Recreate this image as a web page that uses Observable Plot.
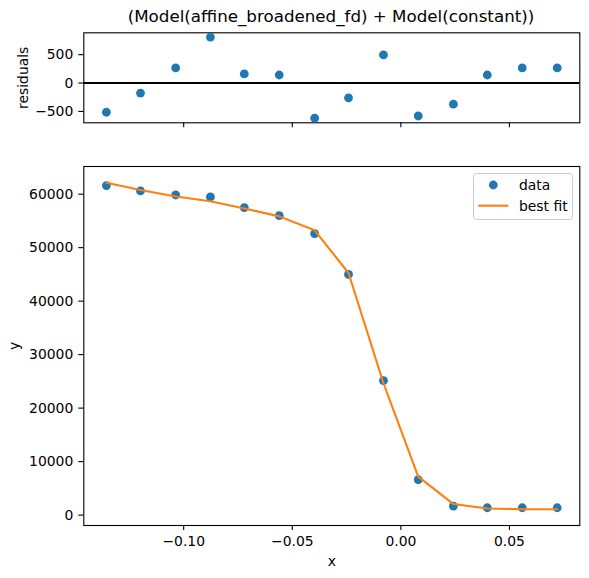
<!DOCTYPE html>
<html>
<head>
<meta charset="utf-8">
<script src="https://cdn.jsdelivr.net/npm/d3@7"></script>
<script src="https://cdn.jsdelivr.net/npm/@observablehq/plot@0.6"></script>
<style>
  html, body { margin: 0; padding: 0; background: white; }
  #wrap { position: relative; width: 589px; height: 578px; background: white; font-family: "DejaVu Sans", sans-serif; }
  #title { position: absolute; top: 8px; left: 83px; width: 496px; text-align: center; font-size: 16.7px; line-height: 1; color: black; white-space: nowrap; }
  #top, #main, #legend { position: absolute; left: 0; }
  #top { top: 0; }
  #main { top: 135px; }
  #legend { left: 473px; top: 173px; }
</style>
</head>
<body>
<div id="wrap">
  <div id="top"></div>
  <div id="main"></div>
  <div id="title">(Model(affine_broadened_fd) + Model(constant))</div>
  <div id="legend"></div>
</div>
<script>
// ---- data ----
const xValues = [-0.1356, -0.1199, -0.1037, -0.0877, -0.0721, -0.0560, -0.0397, -0.0241, -0.0080, 0.0080, 0.0242, 0.0398, 0.0559, 0.0720];
const yData   = [61610, 60600, 59850, 59480, 57490, 55990, 52620, 45000, 25150, 6610, 1685, 1370, 1370, 1370];
const yFit    = [62120, 60780, 59580, 58670, 57330, 55850, 53240, 45260, 24650, 7190, 2060, 1230, 1100, 1100];
const residuals = [-514, -177, 266, 809, 160, 142, -619, -261, 496, -580, -372, 142, 266, 266];

const xTicks = [-0.10, -0.05, 0.00, 0.05];
const yTicks = [0, 10000, 20000, 30000, 40000, 50000, 60000];
const rTicks = [-500, 0, 500];

const titleText = "(Model(affine_broadened_fd) + Model(constant))";
const legendLabels = ["data", "best fit"];

const blue = "#1f77b4", orange = "#ff7f0e";

const rows = xValues.map((x, i) => ({x, y: yData[i], fit: yFit[i], res: residuals[i]}));

const xDomain = [-0.146, 0.0824];
const style = {fontFamily: "DejaVu Sans, sans-serif", fontSize: "13.9px", color: "black", background: "transparent", overflow: "visible"};

document.getElementById("title").textContent = titleText;

// ---- residuals panel ----
const topPlot = Plot.plot({
  width: 589, height: 135,
  marginLeft: 83.3, marginRight: 9.7, marginTop: 32.3, marginBottom: 12.7,
  style,
  x: {domain: xDomain},
  y: {domain: [-700, 885]},
  marks: [
    Plot.frame({stroke: "black", strokeWidth: 1.1}),
    Plot.axisX({ticks: xTicks, tickSize: 5, tickFormat: () => "", label: null, strokeWidth: 1.1}),
    Plot.axisY({ticks: rTicks, tickSize: 5, tickPadding: 5.5, tickFormat: d3.format("d"), label: "residuals", labelAnchor: "center", labelOffset: 66, labelArrow: "none", strokeWidth: 1.1}),
    Plot.ruleY([0], {stroke: "black", strokeWidth: 2}),
    Plot.dot(rows, {x: "x", y: "res", r: 4.4, fill: blue})
  ]
});
document.getElementById("top").appendChild(topPlot);

// ---- main panel ----
const mainPlot = Plot.plot({
  width: 589, height: 443,
  marginLeft: 83.3, marginRight: 9.7, marginTop: 31, marginBottom: 53,
  style,
  x: {domain: xDomain},
  y: {domain: [-1947, 65175]},
  marks: [
    Plot.frame({stroke: "black", strokeWidth: 1.1}),
    Plot.axisX({ticks: xTicks, tickSize: 5, tickPadding: 6, tickFormat: d3.format(".2f"), label: "x", labelAnchor: "center", labelOffset: 40, labelArrow: "none", strokeWidth: 1.1}),
    Plot.axisY({ticks: yTicks, tickSize: 5, tickPadding: 5.5, tickFormat: d3.format("d"), label: "y", labelAnchor: "center", labelOffset: 75, labelArrow: "none", strokeWidth: 1.1}),
    Plot.dot(rows, {x: "x", y: "y", r: 4.4, fill: blue}),
    Plot.line(rows, {x: "x", y: "fit", stroke: orange, strokeWidth: 2.1})
  ]
});
document.getElementById("main").appendChild(mainPlot);

// ---- legend (HTML overlay) ----
const lg = d3.create("svg").attr("width", 101).attr("height", 48)
  .style("font-family", "DejaVu Sans, sans-serif").style("font-size", "13.9px");
lg.append("rect").attr("x", 0.5).attr("y", 0.5).attr("width", 99).attr("height", 46).attr("rx", 3)
  .attr("fill", "rgba(255,255,255,0.8)").attr("stroke", "#cccccc").attr("stroke-width", 1);
lg.append("circle").attr("cx", 20.3).attr("cy", 12).attr("r", 4.4).attr("fill", blue);
lg.append("line").attr("x1", 5.3).attr("x2", 35.3).attr("y1", 32.7).attr("y2", 32.7).attr("stroke", orange).attr("stroke-width", 2.1);
lg.append("text").attr("x", 46).attr("y", 12).attr("dy", "0.36em").text(legendLabels[0]);
lg.append("text").attr("x", 46).attr("y", 32.7).attr("dy", "0.36em").text(legendLabels[1]);
document.getElementById("legend").appendChild(lg.node());
</script>
</body>
</html>
